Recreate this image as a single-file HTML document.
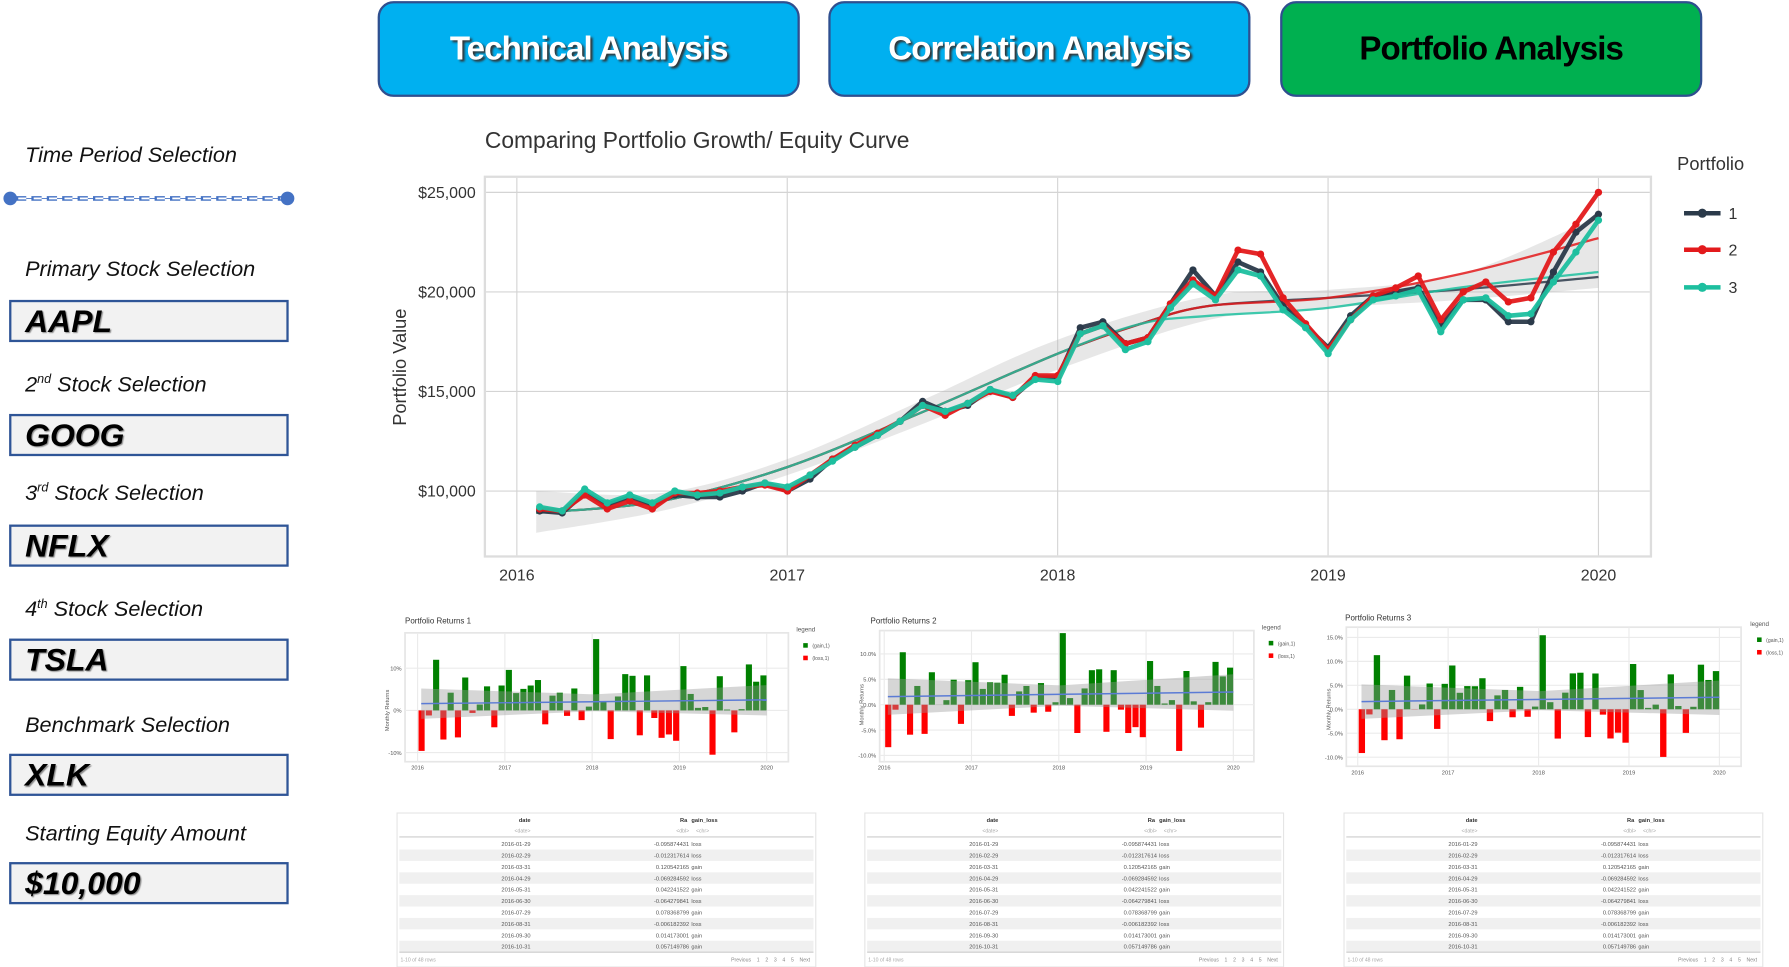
<!DOCTYPE html>
<html><head><meta charset="utf-8">
<style>
html,body{margin:0;padding:0;background:#fff;width:1789px;height:967px;overflow:hidden}
#w{position:absolute;left:0;top:0;width:1568px;height:848px;transform-origin:0 0;transform:scale(1.14094,1.1403);font-family:"Liberation Sans",sans-serif}
.btn{position:absolute;top:1px;width:366px;height:80px;border:2px solid #2f4f8f;border-radius:14px;display:flex;align-items:center;justify-content:center;font-weight:bold;font-size:29px;letter-spacing:-0.8px}
.lab{position:absolute;left:22px;font-style:italic;font-size:19px;color:#111}
.box{position:absolute;left:8px;height:33px;background:#f2f2f2;border:2px solid #2f5597;font-weight:bold;font-style:italic;font-size:28px;line-height:33px;padding-left:12px;box-sizing:content-box;width:229px;text-shadow:1px 1px 1px #888}
svg text{font-family:"Liberation Sans",sans-serif}
</style></head><body><div id="w">
<div class="btn" style="left:331px;background:#00b0f0;color:#fff;text-shadow:2px 2px 2px #333">Technical Analysis</div>
<div class="btn" style="left:726px;background:#00b0f0;color:#fff;text-shadow:2px 2px 2px #333">Correlation Analysis</div>
<div class="btn" style="left:1122px;background:#00b050;color:#000">Portfolio Analysis</div>

<div class="lab" style="top:126px">Time Period Selection</div>
<svg style="position:absolute;left:0;top:165px" width="262" height="20"><line x1="9" y1="9" x2="252" y2="9" stroke="#4472c4" stroke-width="0.8"/><line x1="14" y1="9" x2="248" y2="9" stroke="#4472c4" stroke-width="4" stroke-dasharray="9,4.5"/><line x1="15" y1="9" x2="248" y2="9" stroke="#fff" stroke-width="1.6" stroke-dasharray="7,6.5" stroke-dashoffset="-1"/><circle cx="9" cy="9" r="6" fill="#4472c4"/><circle cx="252" cy="9" r="6" fill="#4472c4"/></svg>
<div class="lab" style="top:226px">Primary Stock Selection</div>
<div class="box" style="top:263px">AAPL</div>
<div class="lab" style="top:327px">2<sup style="font-size:11px">nd</sup> Stock Selection</div>
<div class="box" style="top:363px">GOOG</div>
<div class="lab" style="top:422px">3<sup style="font-size:11px">rd</sup> Stock Selection</div>
<div class="box" style="top:460px">NFLX</div>
<div class="lab" style="top:524px">4<sup style="font-size:11px">th</sup> Stock Selection</div>
<div class="box" style="top:560px">TSLA</div>
<div class="lab" style="top:626px">Benchmark Selection</div>
<div class="box" style="top:661px">XLK</div>
<div class="lab" style="top:721px">Starting Equity Amount</div>
<div class="box" style="top:756px">$10,000</div>

<svg id="main" style="position:absolute;left:0;top:0" width="1568" height="848"></svg>
</div>
<script>
const S=document.getElementById('main');let h='';
h+='<text x="425" y="130" font-size="20" fill="#333">Comparing Portfolio Growth/ Equity Curve</text>';
h+='<rect x="425" y="155" width="1022" height="333" fill="#fff" stroke="#ddd" stroke-width="2"/>';
const X=[453,690,927,1164,1401],Yr=['2016','2017','2018','2019','2020'];
X.forEach((x,i)=>{h+=`<line x1="${x}" y1="156" x2="${x}" y2="487" stroke="#d4d4d4"/><text x="${x}" y="509" font-size="14" fill="#333" text-anchor="middle">${Yr[i]}</text>`});
const yv=v=>256-(v-20)*87.3/5;
[25,20,15,10].forEach(v=>{const y=yv(v);h+=`<line x1="426" y1="${y}" x2="1446" y2="${y}" stroke="#d4d4d4"/><text x="417" y="${y+5}" font-size="14" fill="#333" text-anchor="end">$${v},000</text>`});
h+='<text transform="translate(356,322) rotate(-90)" font-size="16" fill="#333" text-anchor="middle">Portfolio Value</text>';
const mx=i=>473+i*(1401-473)/47;
const P1=[9.0,8.9,9.9,9.3,9.7,9.3,9.8,9.7,9.7,10.0,10.4,10.0,10.6,11.6,12.2,12.8,13.5,14.5,14.0,14.3,15.1,14.7,15.7,15.7,18.2,18.5,17.4,17.7,19.4,21.1,19.8,21.5,21.0,19.3,18.3,17.2,18.8,19.8,20.0,20.2,18.3,19.6,19.6,18.5,18.5,21.0,23.0,23.9];
const P2=[9.1,9.0,9.8,9.1,9.5,9.1,9.9,9.9,10.0,10.2,10.3,10.0,10.8,11.6,12.3,12.9,13.5,14.3,13.8,14.4,15.0,14.7,15.8,15.8,17.9,18.3,17.4,17.7,19.4,20.6,19.8,22.1,21.9,19.7,18.4,17.1,18.6,19.8,20.2,20.8,18.6,20.0,20.5,19.5,19.7,22.0,23.4,25.0];
const P3=[9.2,9.0,10.1,9.4,9.8,9.4,10.0,9.8,9.9,10.2,10.4,10.2,10.8,11.5,12.2,12.8,13.5,14.3,14.0,14.4,15.1,14.8,15.6,15.5,17.9,18.3,17.1,17.5,19.2,20.4,19.6,21.1,20.8,19.1,18.2,16.9,18.6,19.6,19.8,20.1,18.0,19.6,19.7,18.8,18.9,20.5,22.0,23.6];
function sm(end,mid){return [[470,8.9],[580,9.5],[690,11.2],[810,14.0],[927,16.9],[1000,18.4],[1060,19.2+mid],[1164,19.6+mid],[1280,20.1+(end-20.7)*0.4],[1401,end]];}
function cat(pts){let d=`M${pts[0][0]},${yv(pts[0][1])}`;for(let i=0;i<pts.length-1;i++){const p0=pts[Math.max(0,i-1)],p1=pts[i],p2=pts[i+1],p3=pts[Math.min(pts.length-1,i+2)];
 const c1x=p1[0]+(p2[0]-p0[0])/6,c1y=yv(p1[1])+(yv(p2[1])-yv(p0[1]))/6,c2x=p2[0]-(p3[0]-p1[0])/6,c2y=yv(p2[1])-(yv(p3[1])-yv(p1[1]))/6;
 d+=` C${c1x},${c1y} ${c2x},${c2y} ${p2[0]},${yv(p2[1])}`;}return d;}
const bt=[[470,10.0],[580,9.9],[690,11.6],[810,14.6],[927,17.6],[1060,19.8],[1164,20.1],[1280,20.9],[1401,23.8]];
const bb=[[1401,20.2],[1280,19.6],[1164,19.2],[1060,18.6],[927,16.1],[810,13.4],[690,10.8],[580,9.0],[470,7.9]];
h+=`<path d="${cat(bt)} L1401,${yv(20.2)} ${cat(bb).replace('M','L')} Z" fill="#bbb" opacity="0.35"/>`;
const lines=[[P1,'#2b3a4a',20.75,0.1],[P2,'#e31a1c',22.7,0.1],[P3,'#1dbf9f',21.0,-0.4]];
lines.forEach(([P,c,e,m])=>{h+=`<path d="${cat(sm(e,m))}" fill="none" stroke="${c}" stroke-width="2" opacity="0.85"/>`});
lines.forEach(([P,c])=>{h+=`<polyline points="${P.map((v,i)=>mx(i)+','+yv(v)).join(' ')}" fill="none" stroke="${c}" stroke-width="4" stroke-linejoin="round" opacity="0.95"/>`;P.forEach((v,i)=>h+=`<circle cx="${mx(i)}" cy="${yv(v)}" r="3.2" fill="${c}"/>`)});
h+='<text x="1470" y="149" font-size="16" fill="#333">Portfolio</text>';
[['1','#2b3a4a',187],['2','#e31a1c',219],['3','#1dbf9f',252]].forEach(([t,c,y])=>{h+=`<line x1="1476" y1="${y}" x2="1508" y2="${y}" stroke="${c}" stroke-width="4"/><circle cx="1492" cy="${y}" r="4" fill="${c}"/><text x="1515" y="${y+5}" font-size="14" fill="#333">${t}</text>`});
const R=[-9.6,-1.2,12,-6.9,4.2,-6.4,7.8,-0.6,1.4,5.7,-4.0,5.9,9.6,4.1,5.1,5.9,7.2,-3.3,3.5,4.2,-1.3,5.2,-2.3,0.9,16.9,2.2,-6.8,3.3,8.6,8.2,-5.9,8.3,-1.8,-6.5,-5.7,-7.2,10.5,3.9,0.6,0.8,-10.5,8.1,0.2,-5.2,0.3,10.9,6.8,8.3];
const panels=[
 {t:'Portfolio Returns 1',tx:355,ty:547,l:355,r:691,top:555,bot:668,z:623,pp:3.7,x0:366,x1:672,lg:698,ticks:[[10,'10%'],[0,'0%'],[-10,'-10%']],m:1,v:0},
 {t:'Portfolio Returns 2',tx:763,ty:547,l:771,r:1099,top:553,bot:668,z:618,pp:4.45,x0:775,x1:1081,lg:1106,ticks:[[10,'10.0%'],[5,'5.0%'],[0,'0.0%'],[-5,'-5.0%'],[-10,'-10.0%']],m:0.82,v:0.25},
 {t:'Portfolio Returns 3',tx:1179,ty:544,l:1180,r:1526,top:550,bot:672,z:622,pp:4.2,x0:1190,x1:1507,lg:1534,ticks:[[15,'15.0%'],[10,'10.0%'],[5,'5.0%'],[0,'0.0%'],[-5,'-5.0%'],[-10,'-10.0%']],m:0.9,v:0.25}];
panels.forEach((p,k)=>{
 h+=`<text x="${p.tx}" y="${p.ty}" font-size="7" fill="#333">${p.t}</text>`;
 h+=`<rect x="${p.l}" y="${p.top}" width="${p.r-p.l}" height="${p.bot-p.top}" fill="#fff" stroke="#e6e6e6" stroke-width="1.5"/>`;
 p.ticks.forEach(([v,s])=>{const y=p.z-v*p.pp;h+=`<line x1="${p.l}" y1="${y}" x2="${p.r}" y2="${y}" stroke="#ebebeb"/><text x="${p.l-3}" y="${y+2}" font-size="5" fill="#555" text-anchor="end">${s}</text>`});
 for(let j=0;j<5;j++){const x=p.x0+j*(p.x1-p.x0)/4;h+=`<line x1="${x}" y1="${p.top}" x2="${x}" y2="${p.bot}" stroke="#ebebeb"/><text x="${x}" y="${p.bot+7}" font-size="5" fill="#555" text-anchor="middle">${2016+j}</text>`}
 h+=`<text transform="translate(${p.l-14},${p.z}) rotate(-90)" font-size="5" fill="#555" text-anchor="middle">Monthly Returns</text>`;
 const bw=(p.x1-p.x0)/48;
 R.forEach((v0,i)=>{const v=v0*p.m+((i*7)%5-2)*p.v;const x=p.x0+(i+0.55)*(p.x1-p.x0)/48;const y=p.z-Math.max(v,0)*p.pp,hh=Math.abs(v)*p.pp;
  h+=`<rect x="${x-bw*0.42}" y="${y}" width="${bw*0.84}" height="${hh}" fill="${v>=0?'#008000':'#ff0000'}"/>`});
 const a=p.x0+0.5*bw,b=p.x1;
 h+=`<polygon points="${a},${p.z-5.2*p.pp} ${(a+b)/2},${p.z-3.8*p.pp} ${b},${p.z-6*p.pp} ${b},${p.z+1.2*p.pp} ${(a+b)/2},${p.z+0.2*p.pp} ${a},${p.z+2*p.pp}" fill="#999" opacity="0.4"/>`;
 h+=`<line x1="${a}" y1="${p.z-1.6*p.pp}" x2="${b}" y2="${p.z-2.5*p.pp}" stroke="#5b7bd5" stroke-width="1.3"/>`;
 h+=`<text x="${p.lg}" y="${p.top-1}" font-size="5.5" fill="#555">legend</text><rect x="${p.lg+6}" y="${p.top+9}" width="4" height="4" fill="#008000"/><text x="${p.lg+14}" y="${p.top+13}" font-size="4.5" fill="#555">(gain,1)</text><rect x="${p.lg+6}" y="${p.top+20}" width="4" height="4" fill="#ff0000"/><text x="${p.lg+14}" y="${p.top+24}" font-size="4.5" fill="#555">(loss,1)</text>`;
});
const rows=[['2016-01-29','-0.095874431','loss'],['2016-02-29','-0.012317614','loss'],['2016-03-31','0.120542165','gain'],['2016-04-29','-0.069284592','loss'],['2016-05-31','0.042241522','gain'],['2016-06-30','-0.064279841','loss'],['2016-07-29','0.078368799','gain'],['2016-08-31','-0.006182392','loss'],['2016-09-30','0.014173001','gain'],['2016-10-31','0.057149786','gain']];
[348,758,1178].forEach(L=>{
 const W=367;h+=`<rect x="${L}" y="713" width="${W}" height="135" fill="#fff" stroke="#e5e5e5"/>`;
 h+=`<text x="${L+117}" y="721" font-size="5" font-weight="bold" fill="#333" text-anchor="end">date</text><text x="${L+248}" y="721" font-size="5" font-weight="bold" fill="#333">Ra</text><text x="${L+258}" y="721" font-size="5" font-weight="bold" fill="#333">gain_loss</text>`;
 h+=`<text x="${L+117}" y="730" font-size="4.5" fill="#aaa" text-anchor="end">&lt;date&gt;</text><text x="${L+256}" y="730" font-size="4.5" fill="#aaa" text-anchor="end">&lt;dbl&gt;  </text><text x="${L+262}" y="730" font-size="4.5" fill="#aaa">&lt;chr&gt;</text>`;
 h+=`<line x1="${L+2}" y1="734" x2="${L+W-2}" y2="734" stroke="#ccc"/>`;
 rows.forEach((r,i)=>{const y=735+i*10;if(i%2)h+=`<rect x="${L+2}" y="${y}" width="${W-4}" height="10" fill="#f0f0f0"/>`;
  h+=`<text x="${L+117}" y="${y+7}" font-size="5" fill="#555" text-anchor="end">${r[0]}</text><text x="${L+256}" y="${y+7}" font-size="5" fill="#555" text-anchor="end">${r[1]}</text><text x="${L+258}" y="${y+7}" font-size="5" fill="#555">${r[2]}</text>`});
 h+=`<line x1="${L+2}" y1="835" x2="${L+W-2}" y2="835" stroke="#ccc"/>`;
 h+=`<text x="${L+3}" y="843" font-size="4.5" fill="#aaa">1-10 of 48 rows</text><text x="${L+W-5}" y="843" font-size="4.5" fill="#888" text-anchor="end" xml:space="preserve">Previous    1    2    3    4    5    Next</text>`;
});
S.innerHTML=h;
</script>
</body></html>
